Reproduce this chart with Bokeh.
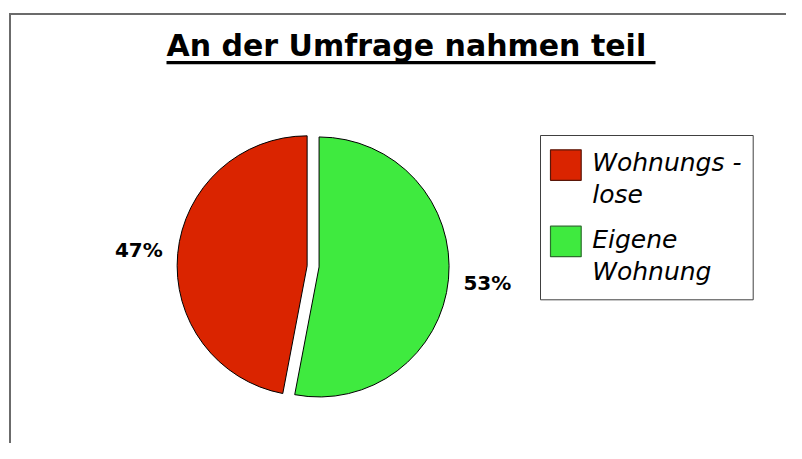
import math
from bokeh.plotting import figure
from bokeh.models import Range1d, ColumnDataSource
from bokeh.embed import file_html
from bokeh.resources import INLINE
from bokeh.core.properties import value

# ---- data ----
title_text = "An der Umfrage nahmen teil "
categories = ["Wohnungs -\nlose", "Eigene\nWohnung"]
shares = [47, 53]
pct_labels = ["47%", "53%"]
colors = ["#DA2400", "#3FEA3F"]
edge_colors = ["#5A1608", "#2C6E2C"]

W, H = 786, 443
p = figure(width=W, height=H, x_range=Range1d(0, W), y_range=Range1d(0, H),
           output_backend="svg", toolbar_location=None, min_border=0)
p.axis.visible = False
p.grid.visible = False
p.outline_line_color = None
p.background_fill_color = "white"
p.border_fill_color = "white"


def Y(py):
    # pixel row (from top) -> data y
    return H - py


# frame (top and left edges visible), drawn as thin filled bars
p.quad(left=[8.5, 8.5], right=[10.5, W], top=[Y(12.5), Y(12.5)], bottom=[0, Y(14.5)],
       fill_color="#6b6b6b", line_color=None)

# title (baseline at 56.7 px)
p.text(x=[166], y=[Y(56.7 - 11.4)], text=[title_text], text_font=value("DejaVu Sans"),
       text_font_style="bold", text_font_size="30px", text_align="left",
       text_baseline="middle", text_color="black")
p.quad(left=[166], right=[655], top=[Y(60.6)], bottom=[Y(63.7)], fill_color="black", line_color=None)

# pie
total = float(sum(shares))
cx, cy = 312.6, Y(265.9)
R = 130
explode = 6
label_r = 175
ang = 90.0
xs, ys, st, en, lx, ly = [], [], [], [], [], []
for s in shares:
    span = s / total * 360.0
    mid = math.radians(ang + span / 2)
    xs.append(cx + explode * math.cos(mid))
    ys.append(cy + explode * math.sin(mid))
    st.append(ang)
    en.append(ang + span)
    lx.append(cx + label_r * math.cos(mid))
    ly.append(cy + label_r * math.sin(mid))
    ang += span

src = ColumnDataSource(dict(x=xs, y=ys, start=st, end=en, color=colors, lx=lx, ly=ly, lab=pct_labels))
p.wedge(x="x", y="y", radius=R, start_angle="start", end_angle="end",
        start_angle_units="deg", end_angle_units="deg",
        fill_color="color", line_color="black", line_width=1, source=src)
p.text(x="lx", y="ly", text="lab", source=src, text_font=value("DejaVu Sans"),
       text_font_style="bold", text_font_size="20px", text_align="center",
       text_baseline="middle", text_color="black")

# legend
p.quad(left=[540], right=[752.7], top=[Y(135)], bottom=[Y(299.3)], fill_color="white",
       line_color="#404040", line_width=1)
item_top = 149.3
item_step = 76.4
line_step = 32
for i, (cat, col, ec) in enumerate(zip(categories, colors, edge_colors)):
    top = item_top + i * item_step
    p.quad(left=[550], right=[580.7], top=[Y(top)], bottom=[Y(top + 30.5)],
           fill_color=col, line_color=ec, line_width=1.2)
    for j, line in enumerate(cat.split("\n")):
        p.text(x=[591.7], y=[Y(top + 22.4 + j * line_step - 9.5)], text=[line],
               text_font=value("DejaVu Sans"), text_font_style="italic",
               text_font_size="25px", text_align="left", text_baseline="middle",
               text_color="black")

open("out.html", "w").write(file_html(p, INLINE))
